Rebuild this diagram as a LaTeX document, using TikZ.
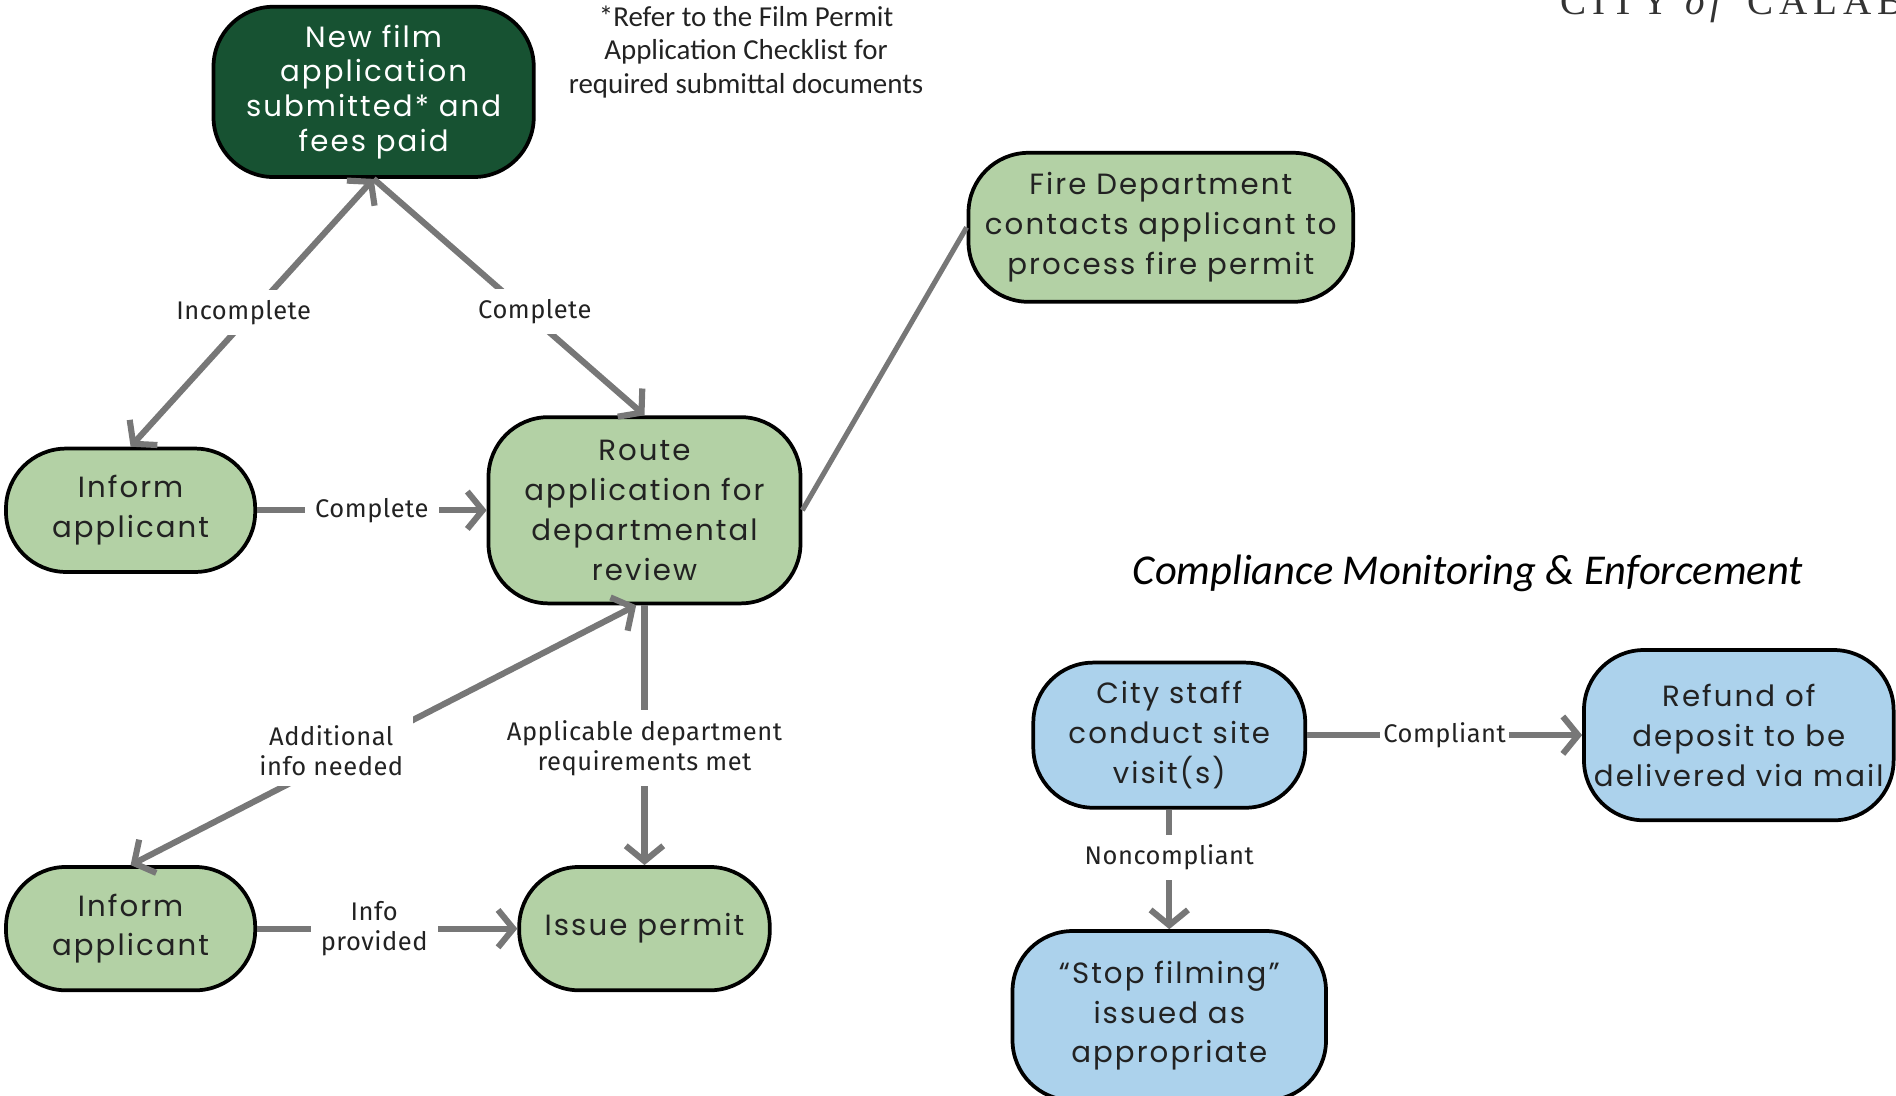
\documentclass[tikz,border=0pt]{standalone}
\usepackage{fontspec}
\setmainfont{Poppins}[LetterSpace=7.0]
\newfontfamily\labelfont{Fira Sans}[LetterSpace=2.0]
\newfontfamily\notefont{Carlito}
\newfontfamily\cityfont{Liberation Serif}[LetterSpace=15.0]
\usetikzlibrary{arrows.meta}

\definecolor{darkgreen}{HTML}{175232}
\definecolor{lightgreen}{HTML}{B3D1A5}
\definecolor{lightblue}{HTML}{ACD2EC}
\definecolor{flowgray}{HTML}{777777}
\definecolor{inkgray}{HTML}{222222}

\begin{document}
\begin{tikzpicture}[
		x=0.0125cm,
		y=-0.0125cm,
		>={Straight Barb[length=4.5pt,width=11pt]},
		stage/.style={
			draw=black,
			line width=1.1pt,
			rounded corners=0.62cm,
			align=center,
			inner sep=0pt,
			text=inkgray,
			font=\fontsize{8.6}{11.7}\selectfont,
		},
		greenstage/.style={
			stage,
			fill=lightgreen,
		},
		bluestage/.style={
			stage,
			fill=lightblue,
		},
		flow/.style={
			draw=flowgray,
			line width=1.8pt,
			->,
		},
		lbl/.style={
			fill=white,
			text=inkgray,
			align=center,
			inner sep=3pt,
			font=\labelfont\fontsize{7.5}{8.9}\selectfont,
		},
	]
		\path[use as bounding box, clip] (0,0) rectangle (1568,906);

		% permit application
		\node[stage, fill=darkgreen, text=white, minimum width=3.31cm, minimum height=1.76cm,
			font=\fontsize{8.6}{10.2}\selectfont] (newapp) at (309,76) {New film\\application\\submitted* and\\fees paid};
		\node[greenstage, minimum width=3.975cm, minimum height=1.54cm] (fire) at (960,188) {Fire Department\\contacts applicant to\\process fire permit};
		\node[greenstage, minimum width=2.575cm, minimum height=1.275cm] (inform1) at (108,422) {Inform\\applicant};
		\node[greenstage, minimum width=3.225cm, minimum height=1.925cm] (route) at (533,422) {Route\\application for\\departmental\\review};
		\node[greenstage, minimum width=2.575cm, minimum height=1.275cm] (inform2) at (108,768) {Inform\\applicant};
		\node[greenstage, minimum width=2.59cm, minimum height=1.275cm] (issue) at (533,768) {Issue permit};

		% compliance
		\node[bluestage, minimum width=2.81cm, minimum height=1.5cm] (visit) at (967,608) {City staff\\conduct site\\visit(s)};
		\node[bluestage, minimum width=3.2cm, minimum height=1.76cm] (refund) at (1438,608) {Refund of\\deposit to be\\delivered via mail};
		\node[bluestage, minimum width=3.24cm, minimum height=1.75cm] (stop) at (967,840) {“Stop filming”\\issued as\\appropriate};

		% texts
		\node[align=center, text=inkgray, font=\notefont\fontsize{8.5}{9.9}\selectfont] (note) at (617,43) {*Refer to the Film Permit\\Application Checklist for\\required submittal documents};
		\node[font=\notefont\itshape\fontsize{12.5}{14}\selectfont] (heading) at (1214,474) {Compliance Monitoring \& Enforcement};
		\node[anchor=base west, inner sep=0pt, text=black!80, font=\cityfont\fontsize{11.5}{12}\selectfont] (city) at (1290,12) {CITY \textit{of} CALABASAS};

		% connectors
		\draw[flow, <->] (newapp.south) -- node[lbl, pos=0.5, xshift=-2.5pt] {Incomplete} (inform1.north);
		\draw[flow] (newapp.south) -- node[lbl, pos=0.56, xshift=2.8pt] {Complete} (route.north);
		\draw[flow] (inform1) -- node[lbl] {Complete} (route);
		\draw[draw=flowgray, line width=1.5pt] (route.east) -- (fire.west);
		\draw[flow, <->] (route.265) -- node[lbl, pos=0.56, xshift=-6.4pt] {Additional\\info needed} (inform2.north);
		\draw[flow] (route.south) -- node[lbl, pos=0.55] {Applicable department\\requirements met} (issue.north);
		\draw[flow] (inform2) -- node[lbl, pos=0.45] {Info\\provided} (issue);
		\draw[flow] (visit) -- node[lbl, inner sep=1pt] {Compliant} (refund);
		\draw[flow] (visit) -- node[lbl, pos=0.4] {Noncompliant} (stop);
	\end{tikzpicture}
\end{document}
